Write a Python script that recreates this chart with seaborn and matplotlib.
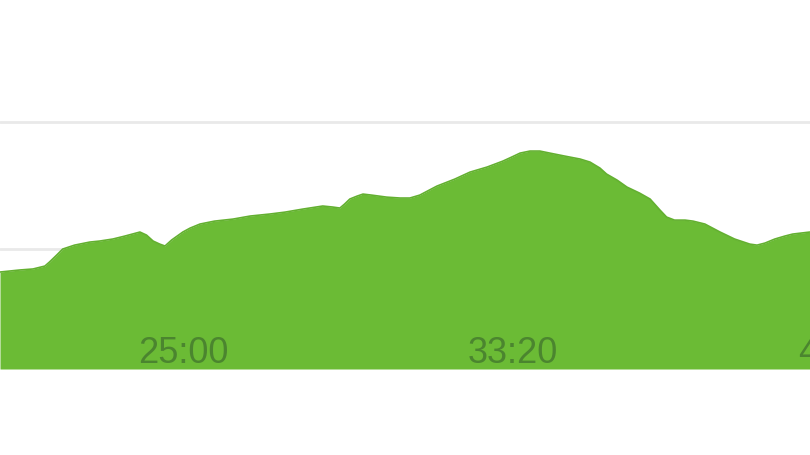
import pandas as pd
import seaborn as sns
import matplotlib.pyplot as plt
import matplotlib.ticker as mtick

# elapsed time (s) and elevation (m)
tempo = [1223, 1253, 1273, 1291, 1298, 1309, 1318, 1336, 1359, 1374, 1394, 1412,
         1435, 1445, 1455, 1465, 1473, 1483, 1500, 1511, 1526, 1548, 1576, 1602,
         1632, 1655, 1682, 1712, 1727, 1738, 1745, 1753, 1764, 1773, 1786, 1809,
         1829, 1844, 1859, 1885, 1912, 1935, 1961, 1985, 1998, 2011, 2026, 2041,
         2056, 2079, 2102, 2117, 2132, 2142, 2158, 2173, 2192, 2208, 2223, 2233,
         2245, 2261, 2273, 2291, 2314, 2336, 2359, 2370, 2382, 2397, 2412, 2424, 2450]
altitude = [81.9, 83.5, 84.3, 86.6, 89.8, 95.3, 100.0, 103.1, 105.5, 106.3, 107.9, 110.2,
            113.4, 111.0, 106.3, 103.9, 102.4, 107.1, 113.4, 116.5, 119.7, 122.0, 123.6, 126.0,
            127.6, 129.1, 131.5, 133.9, 133.1, 132.3, 135.4, 139.4, 141.7, 143.3, 142.5, 140.9,
            140.2, 140.2, 142.5, 149.6, 155.1, 160.6, 164.6, 169.3, 172.4, 175.6, 177.2, 177.2,
            175.6, 173.2, 170.9, 168.5, 163.8, 159.1, 154.3, 148.8, 144.1, 139.4, 130.7, 125.2,
            122.8, 122.8, 122.0, 119.7, 113.4, 107.9, 103.9, 103.1, 104.7, 107.9, 110.2, 111.8, 113.4]
grid_y = [100, 200]

df = pd.DataFrame({"tempo": tempo, "altitude": altitude})

VERDE = "#6bbb35"
BASE = 5.5

sns.set_theme(style="white")
plt.rcParams["font.family"] = ["Liberation Sans", "DejaVu Sans"]

fig = plt.figure(figsize=(8.1, 4.56), dpi=100)
# o gráfico original é um recorte: o eixo continua além da borda direita
ax = fig.add_axes([0, 86 / 456, 1.1, 370 / 456])

# linhas de grade por baixo da área
for g in grid_y:
    ax.axhline(g, color="#e9e9e9", linewidth=2, zorder=0.5)

ax.fill_between(df["tempo"], df["altitude"], BASE, color=VERDE, linewidth=0, zorder=1)
sns.lineplot(data=df, x="tempo", y="altitude", color="#63b030", linewidth=1.2, ax=ax, zorder=1.5)

ax.set_xlim(1223, 2573)
ax.set_ylim(BASE, 297)
ax.set_yticks([])

# rótulos de tempo (mm:ss) por cima da área verde
ax.xaxis.set_major_locator(mtick.MultipleLocator(500))
ax.xaxis.set_major_formatter(mtick.FuncFormatter(lambda s, _: f"{int(s) // 60}:{int(s) % 60:02d}"))
ax.tick_params(axis="x", length=0, pad=-24.5, labelsize=26, labelcolor="#4b852f")
ax.xaxis.set_zorder(3)

ax.set_xlabel("")
ax.set_ylabel("")
sns.despine(ax=ax, left=True, bottom=True)

fig.savefig("out.png", dpi=100)
